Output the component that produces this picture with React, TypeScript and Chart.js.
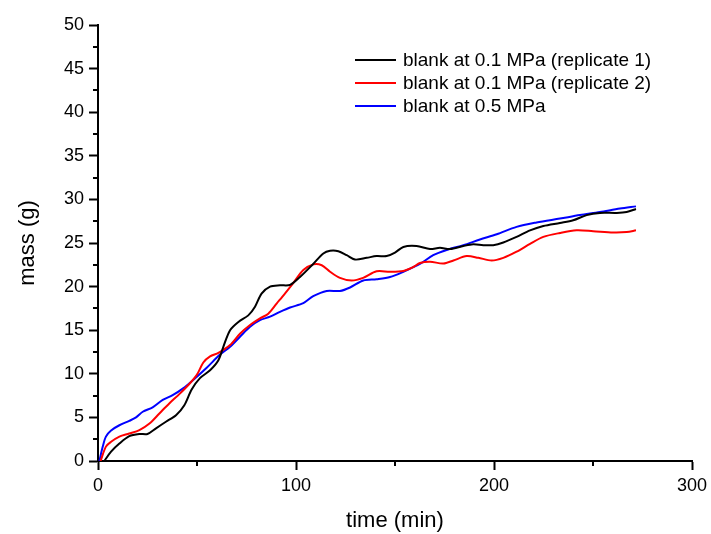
import React, { useEffect, useRef } from "react";
import { Chart, registerables } from "chart.js";

Chart.register(...registerables);

const seriesLabels = [
  "blank at 0.1 MPa (replicate 1)",
  "blank at 0.1 MPa (replicate 2)",
  "blank at 0.5 MPa",
];
const seriesColors = ["#000000", "#ff0000", "#0000ff"];

const blackX = [3.2, 6.6, 10.8, 15.8, 20.9, 25, 29.3, 34.3, 39.4, 43.6, 47.3, 51.5, 56.6, 60.8, 63.3, 66.7, 70.9, 75.9, 79.3, 82.6, 86.9, 91.9, 97, 102, 108.7, 113.8, 117.2, 121.4, 125.6, 129.8, 135.7, 140.7, 145.8, 150, 154.2, 160.9, 167.7, 172.7, 177.8, 184.5, 189.5, 194.6, 199.6, 204.7, 211.4, 218.2, 224.9, 233.3, 240, 246.8, 253.5, 262, 267, 271.7];
const blackY = [0, 1.07, 2.0, 2.85, 3.1, 3.1, 3.75, 4.5, 5.25, 6.4, 8.2, 9.5, 10.4, 11.55, 13.1, 15.0, 15.95, 16.7, 17.7, 19.2, 20.0, 20.15, 20.2, 21.1, 22.6, 23.8, 24.1, 24.05, 23.6, 23.1, 23.3, 23.5, 23.5, 23.9, 24.55, 24.65, 24.3, 24.45, 24.3, 24.65, 24.85, 24.75, 24.75, 25.05, 25.7, 26.45, 26.95, 27.3, 27.6, 28.2, 28.45, 28.45, 28.55, 28.9];

const redX = [1.3, 4, 6.6, 10.8, 15.8, 20.9, 26, 31, 36, 41.2, 46, 50, 53.2, 56.6, 60.8, 66.7, 71.7, 76.8, 81.8, 86, 90.2, 94.4, 98.6, 103.7, 108.7, 113, 117.2, 122.2, 128.1, 133.9, 140.7, 147.5, 154.2, 159.2, 162.6, 167.7, 174.4, 179.5, 186.2, 192.1, 198.8, 204.7, 211.4, 218.2, 224.9, 233.3, 241.7, 250.1, 260.2, 267, 271.7];
const redY = [0, 1.65, 2.2, 2.8, 3.15, 3.55, 4.3, 5.45, 6.6, 7.7, 8.8, 9.9, 11.3, 12.0, 12.4, 13.3, 14.6, 15.6, 16.35, 16.9, 18.05, 19.2, 20.4, 21.9, 22.55, 22.45, 21.7, 21.0, 20.7, 21.0, 21.75, 21.7, 21.8, 22.25, 22.7, 22.85, 22.65, 23.0, 23.5, 23.3, 23.0, 23.3, 24.0, 24.9, 25.7, 26.15, 26.45, 26.35, 26.2, 26.25, 26.45];

const blueX = [0.7, 2.4, 4, 6.6, 10.8, 15.8, 19.2, 22.6, 27.6, 32.7, 37.7, 42.8, 48.1, 54.9, 61.6, 66.7, 71.7, 76.8, 81.8, 86.9, 91.9, 97, 103.7, 108.7, 115.5, 122.2, 127.3, 134, 140.7, 147.5, 154.2, 162.6, 169.3, 176.1, 184.5, 192.9, 201.4, 211.4, 221.5, 233.3, 243.4, 253.5, 263.6, 271.7];
const blueY = [0, 1.65, 2.8, 3.5, 4.1, 4.6, 5.0, 5.65, 6.15, 7.0, 7.55, 8.3, 9.3, 10.7, 12.2, 13.1, 14.25, 15.4, 16.15, 16.55, 17.1, 17.6, 18.1, 18.9, 19.5, 19.5, 19.9, 20.7, 20.85, 21.1, 21.7, 22.6, 23.6, 24.2, 24.75, 25.4, 26.0, 26.85, 27.35, 27.8, 28.2, 28.55, 28.95, 29.2];

const xMinorTicks = [50, 150, 250];
const yMinorTicks = [2.5, 7.5, 12.5, 17.5, 22.5, 27.5, 32.5, 37.5, 42.5, 47.5];

const FONT = "'Liberation Sans', Arial, sans-serif";

const toPoints = (xs: number[], ys: number[]) => xs.map((x, i) => ({ x, y: ys[i] }));

const extrasPlugin = {
  id: "extras",
  afterDraw(chart: any) {
    const ctx = chart.ctx;
    const xs = chart.scales.x;
    const ys = chart.scales.y;
    const { left, bottom } = chart.chartArea;
    ctx.save();
    ctx.strokeStyle = "#000";
    ctx.lineWidth = 2;
    ctx.beginPath();
    yMinorTicks.forEach((v) => {
      const py = Math.round(ys.getPixelForValue(v));
      ctx.moveTo(left - 5, py);
      ctx.lineTo(left, py);
    });
    xMinorTicks.forEach((v) => {
      const px = Math.round(xs.getPixelForValue(v));
      ctx.moveTo(px, bottom);
      ctx.lineTo(px, bottom + 5);
    });
    ctx.stroke();

    // legend
    ctx.font = `19px ${FONT}`;
    ctx.textBaseline = "middle";
    ctx.textAlign = "left";
    chart.data.datasets.forEach((ds: any, i: number) => {
      const y = 60 + i * 23;
      ctx.strokeStyle = ds.borderColor;
      ctx.lineWidth = 2;
      ctx.beginPath();
      ctx.moveTo(355, y);
      ctx.lineTo(396, y);
      ctx.stroke();
      ctx.fillStyle = "#000";
      ctx.fillText(ds.label, 403, y + 1);
    });
    ctx.restore();
  },
};

export default function App() {
  const ref = useRef<HTMLCanvasElement | null>(null);

  useEffect(() => {
    if (!ref.current) return;
    const series = [
      toPoints(blackX, blackY),
      toPoints(redX, redY),
      toPoints(blueX, blueY),
    ];
    const chart = new Chart(ref.current, {
      type: "line",
      data: {
        datasets: series.map((pts, i) => ({
          label: seriesLabels[i],
          data: pts,
          borderColor: seriesColors[i],
          backgroundColor: seriesColors[i],
          borderWidth: 2,
          pointRadius: 0,
          tension: 0.3,
          fill: false,
        })),
      },
      options: {
        animation: false,
        responsive: false,
        layout: { padding: { top: 25, right: 19, left: 0, bottom: 0 } },
        plugins: {
          legend: { display: false },
          tooltip: { enabled: false },
        },
        scales: {
          x: {
            type: "linear",
            min: 0,
            max: 300,
            afterFit: (s: any) => {
              s.height = 73;
              s.paddingRight = 0;
              s.paddingLeft = 0;
            },
            ticks: {
              stepSize: 100,
              color: "#000",
              font: { family: FONT, size: 18 },
              padding: 5,
              maxRotation: 0,
            },
            grid: {
              display: true,
              drawOnChartArea: false,
              drawTicks: true,
              tickLength: 9,
              tickWidth: 2,
              tickColor: "#000",
            },
            border: { display: true, color: "#000", width: 2 },
            title: {
              display: true,
              text: "time (min)",
              color: "#000",
              font: { family: FONT, size: 22 },
              padding: { top: 0, bottom: 0 },
            },
          },
          y: {
            min: 0,
            max: 50,
            afterFit: (s: any) => {
              s.width = 98;
            },
            ticks: {
              stepSize: 5,
              color: "#000",
              font: { family: FONT, size: 18 },
              padding: 5,
            },
            grid: {
              display: true,
              drawOnChartArea: false,
              drawTicks: true,
              tickLength: 9,
              tickWidth: 2,
              tickColor: "#000",
            },
            border: { display: true, color: "#000", width: 2 },
            title: {
              display: true,
              text: "mass (g)",
              color: "#000",
              font: { family: FONT, size: 22 },
              padding: { top: 15, bottom: 0 },
            },
          },
        },
      },
      plugins: [extrasPlugin],
    });
    return () => chart.destroy();
  }, []);

  return (
    <div style={{ position: "absolute", left: 0, top: 0, width: 711, height: 534, background: "#fff" }}>
      <canvas ref={ref} width={711} height={534} style={{ width: 711, height: 534 }} />
    </div>
  );
}
